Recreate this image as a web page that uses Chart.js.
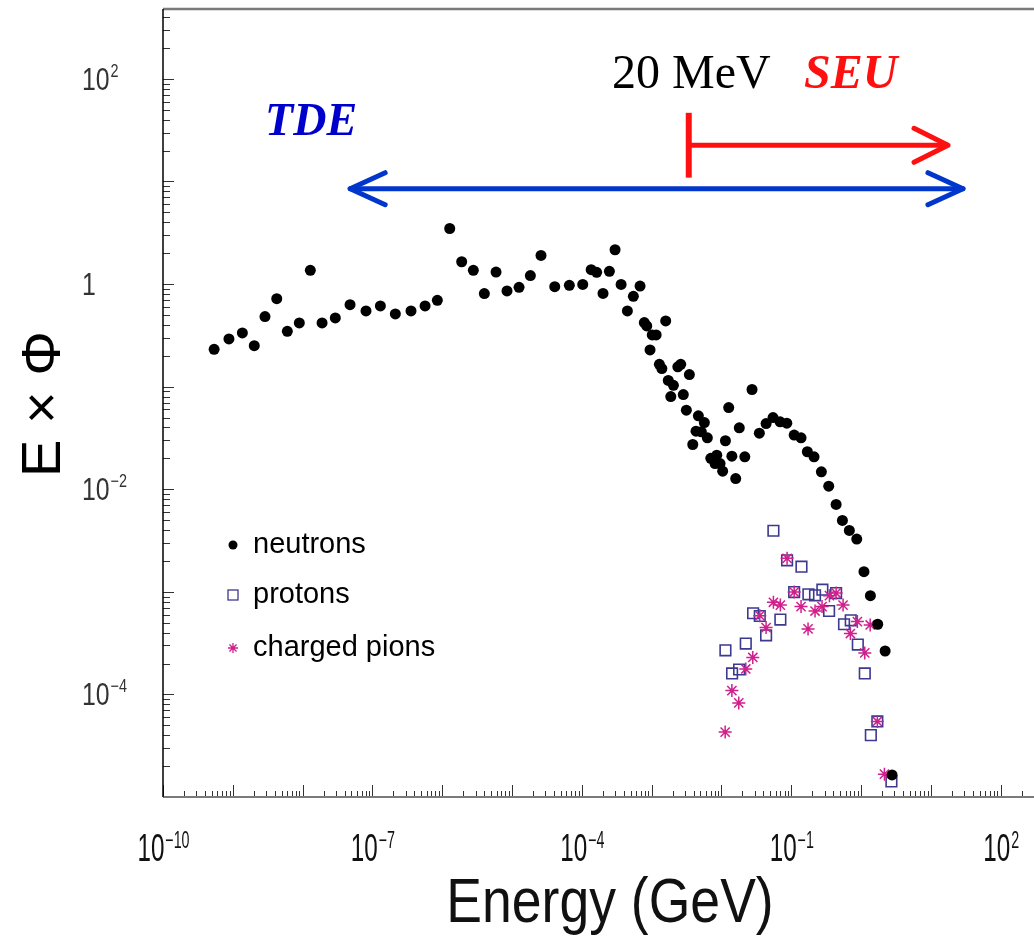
<!DOCTYPE html>
<html>
<head>
<meta charset="utf-8">
<script src="https://cdn.jsdelivr.net/npm/chart.js@4.4.1/dist/chart.umd.min.js"></script>
<style>
  html, body { margin: 0; padding: 0; background: #fff; }
  canvas { display: block; }
</style>
</head>
<body>
<canvas id="fluxChart" width="1034" height="949"></canvas>
<script>
// neutrons (E in GeV, E x Phi)
const neutronEnergy = [
    5.4e-10, 8.8e-10, 1.37e-9, 2.03e-9, 2.89e-9, 4.26e-9, 6.04e-9, 8.97e-9, 1.29e-8, 1.90e-8,
    2.94e-8, 4.78e-8, 8.09e-8, 1.30e-7, 2.13e-7, 3.57e-7, 5.68e-7, 8.51e-7, 1.28e-6, 1.90e-6,
    2.79e-6, 4.01e-6, 5.90e-6, 8.47e-6, 1.26e-5, 1.83e-5, 2.60e-5, 4.09e-5, 6.62e-5, 1.03e-4,
    1.36e-4, 1.63e-4, 2.01e-4, 2.48e-4, 2.99e-4, 3.65e-4, 4.49e-4, 5.47e-4, 6.82e-4, 7.85e-4,
    8.51e-4, 9.48e-4, 1.02e-3, 1.16e-3, 1.29e-3, 1.40e-3, 1.59e-3, 1.73e-3, 1.88e-3, 2.05e-3,
    2.37e-3, 2.61e-3, 2.84e-3, 3.14e-3, 3.47e-3, 3.88e-3, 4.32e-3, 4.67e-3, 5.15e-3, 5.69e-3,
    6.28e-3, 7.03e-3, 8.09e-3, 8.57e-3, 9.55e-3, 1.04e-2, 1.14e-2, 1.27e-2, 1.41e-2, 1.60e-2,
    1.80e-2, 2.16e-2, 2.74e-2, 3.49e-2, 4.36e-2, 5.48e-2, 6.92e-2, 8.63e-2, 0.110, 0.138,
    0.170, 0.212, 0.270, 0.344, 0.439, 0.540, 0.679, 0.867, 1.10, 1.36,
    1.73, 2.21, 2.78
];
const neutronFlux = [
    0.231, 0.292, 0.334, 0.251, 0.482, 0.721, 0.346, 0.418, 1.36, 0.418,
    0.468, 0.630, 0.547, 0.612, 0.512, 0.547, 0.612, 0.694, 3.48, 1.65,
    1.36, 0.807, 1.31, 0.857, 0.929, 1.21, 1.90, 0.944, 0.971, 0.993,
    1.38, 1.30, 0.811, 1.33, 2.16, 0.993, 0.547, 0.759, 0.957, 0.421,
    0.391, 0.228, 0.319, 0.319, 0.165, 0.150, 0.437, 0.115, 0.0801, 0.103,
    0.156, 0.165, 0.0838, 0.0589, 0.131, 0.0273, 0.0368, 0.0520, 0.0363, 0.0447,
    0.0317, 0.0200, 0.0178, 0.0215, 0.0178, 0.0150, 0.0297, 0.0625, 0.0210, 0.0127,
    0.0397, 0.0207, 0.0938, 0.0352, 0.0437, 0.0500, 0.0454, 0.0441, 0.0337, 0.0317,
    0.0232, 0.0207, 0.0148, 0.0107, 7.11e-3, 4.97e-3, 3.97e-3, 3.27e-3, 1.57e-3, 9.18e-4,
    4.83e-4, 2.65e-4, 1.64e-5
];

// protons
const protonEnergy = [
    1.14e-2, 1.42e-2, 1.79e-2, 2.23e-2, 2.84e-2, 3.54e-2, 4.36e-2, 5.55e-2, 6.98e-2, 8.71e-2,
    0.110, 0.140, 0.176, 0.219, 0.279, 0.348, 0.439, 0.570, 0.711, 0.898,
    1.13, 1.38, 1.71, 2.72
];
const protonFlux = [
    2.69e-4, 1.60e-4, 1.75e-4, 3.13e-4, 6.18e-4, 5.81e-4, 3.77e-4, 3.94e-3, 5.36e-4, 2.03e-3,
    9.95e-4, 1.76e-3, 9.46e-4, 9.25e-4, 1.05e-3, 6.50e-4, 9.73e-4, 4.83e-4, 5.27e-4, 3.06e-4,
    1.60e-4, 4.01e-5, 5.45e-5, 1.42e-5
];

// charged pions
const pionEnergy = [
    1.13e-2, 1.41e-2, 1.77e-2, 2.23e-2, 2.81e-2, 3.54e-2, 4.36e-2, 5.55e-2, 6.98e-2, 8.71e-2,
    0.110, 0.138, 0.174, 0.219, 0.276, 0.352, 0.439, 0.552, 0.703, 0.885,
    1.13, 1.35, 1.71, 2.16
];
const pionFlux = [
    4.29e-5, 1.09e-4, 8.26e-5, 1.77e-4, 2.29e-4, 5.86e-4, 4.48e-4, 7.91e-4, 7.43e-4, 2.12e-3,
    9.95e-4, 7.18e-4, 4.35e-4, 6.50e-4, 7.18e-4, 9.18e-4, 9.73e-4, 7.43e-4, 3.92e-4, 5.13e-4,
    2.54e-4, 4.75e-4, 5.45e-5, 1.67e-5
];

// tick labels
const xTickValues = [1e-10, 1e-7, 1e-4, 1e-1, 1e2];
const xTickExponents = ['\u221210', '\u22127', '\u22124', '\u22121', '2'];
const yTickValues = [1e2, 1, 1e-2, 1e-4];
const yTickBases = ['10', '1', '10', '10'];
const yTickExponents = ['2', '', '\u22122', '\u22124'];

const legendNames = ['neutrons', 'protons', 'charged pions'];

// 축 범위
const X_MIN = 1e-10, X_MAX = 300;
const Y_MIN = 1e-5, Y_MAX = 480;

const COLORS = {
    neutron: '#000000',
    proton: '#3d3890',
    pion: '#d11f8c',
    tde: '#0036cc',
    seu: '#ff1010'
};

function toPoints(xs, ys) {
    return xs.map((x, i) => ({ x: x, y: ys[i] }));
}

// 가로로 눌린 글자 그리기
function drawText(ctx, str, x, y, font, color, sx, align) {
    ctx.save();
    ctx.font = font;
    ctx.fillStyle = color;
    ctx.textAlign = align || 'left';
    ctx.textBaseline = 'alphabetic';
    ctx.translate(x, y);
    ctx.scale(sx, 1);
    ctx.fillText(str, 0, 0);
    ctx.restore();
}

function textWidth(ctx, str, font, sx) {
    ctx.save();
    ctx.font = font;
    const w = ctx.measureText(str).width * sx;
    ctx.restore();
    return w;
}

function minorValues(min, max) {
    const out = [];
    for (let e = Math.floor(Math.log10(min)); e <= Math.ceil(Math.log10(max)); e++) {
        for (let k = 1; k <= 9; k++) {
            const v = k * Math.pow(10, e);
            if (v >= min * 0.999 && v <= max * 1.001) out.push({ v: v, major: k === 1 });
        }
    }
    return out;
}

function arrowHead(ctx, tipX, tipY, dir, len, half) {
    ctx.beginPath();
    ctx.moveTo(tipX - dir * len, tipY - half);
    ctx.lineTo(tipX, tipY);
    ctx.lineTo(tipX - dir * len, tipY + half);
    ctx.stroke();
}

// 프레임과 눈금
const framePlugin = {
    id: 'framePlugin',
    beforeDatasetsDraw(chart) {
        const ctx = chart.ctx;
        const a = chart.chartArea;
        const xs = chart.scales.x, ys = chart.scales.y;
        ctx.save();

        // ticks on y axis (inward)
        ctx.strokeStyle = '#333';
        ctx.lineWidth = 1;
        minorValues(Y_MIN, Y_MAX).forEach(t => {
            const py = Math.round(ys.getPixelForValue(t.v)) + 0.5;
            ctx.beginPath();
            ctx.moveTo(a.left, py);
            ctx.lineTo(a.left + (t.major ? 11 : 7), py);
            ctx.stroke();
        });
        // ticks on x axis (inward)
        minorValues(X_MIN, X_MAX).forEach(t => {
            const px = Math.round(xs.getPixelForValue(t.v)) + 0.5;
            ctx.beginPath();
            ctx.moveTo(px, a.bottom);
            ctx.lineTo(px, a.bottom - (t.major ? 12 : 6));
            ctx.stroke();
        });

        // top border, bottom axis
        ctx.strokeStyle = '#7a7a7a';
        ctx.lineWidth = 2.5;
        ctx.beginPath();
        ctx.moveTo(a.left, a.top);
        ctx.lineTo(a.right, a.top);
        ctx.stroke();
        ctx.lineWidth = 2;
        ctx.beginPath();
        ctx.moveTo(a.left, a.bottom);
        ctx.lineTo(a.right, a.bottom);
        ctx.stroke();
        // left axis
        ctx.strokeStyle = '#000';
        ctx.lineWidth = 1.5;
        ctx.beginPath();
        ctx.moveTo(a.left, a.top);
        ctx.lineTo(a.left, a.bottom);
        ctx.stroke();
        ctx.restore();
    },
    afterDatasetsDraw(chart) {
        const ctx = chart.ctx;
        const a = chart.chartArea;
        const xs = chart.scales.x, ys = chart.scales.y;

        // x tick labels
        const xBase = '39px "Liberation Sans", Arial, sans-serif';
        const xExp = '23px "Liberation Sans", Arial, sans-serif';
        xTickValues.forEach((v, i) => {
            const cx = xs.getPixelForValue(v);
            const wb = textWidth(ctx, '10', xBase, 0.62);
            const we = textWidth(ctx, xTickExponents[i], xExp, 0.62);
            const x0 = cx - (wb + we) / 2;
            drawText(ctx, '10', x0, a.bottom + 64, xBase, '#111', 0.62);
            drawText(ctx, xTickExponents[i], x0 + wb + 1, a.bottom + 51, xExp, '#111', 0.62);
        });

        // y tick labels
        const yBase = '31px "Liberation Sans", Arial, sans-serif';
        const yExp = '18px "Liberation Sans", Arial, sans-serif';
        yTickValues.forEach((v, i) => {
            const cy = ys.getPixelForValue(v);
            const x0 = 82;
            drawText(ctx, yTickBases[i], x0, cy + 11, yBase, '#333', 0.8);
            if (yTickExponents[i]) {
                const wb = textWidth(ctx, yTickBases[i], yBase, 0.8);
                drawText(ctx, yTickExponents[i], x0 + wb + 1, cy - 2, yExp, '#333', 0.8);
            }
        });

        // axis titles
        drawText(ctx, 'Energy (GeV)', 610, 922, '63px "Liberation Sans", Arial, sans-serif', '#111', 0.85, 'center');
        ctx.save();
        ctx.translate(60, 404);
        ctx.rotate(-Math.PI / 2);
        ctx.font = '56px "Liberation Sans", Arial, sans-serif';
        ctx.fillStyle = '#000';
        ctx.textAlign = 'center';
        ctx.textBaseline = 'alphabetic';
        ctx.fillText('E \u00d7 \u03a6', 0, 0);
        ctx.restore();

        // TDE double arrow
        ctx.save();
        ctx.lineCap = 'round';
        ctx.lineJoin = 'round';
        ctx.strokeStyle = COLORS.tde;
        ctx.lineWidth = 5;
        const tY = ys.getPixelForValue(8.5);
        const tL = xs.getPixelForValue(4.8e-8);
        const tR = xs.getPixelForValue(28.8);
        ctx.beginPath();
        ctx.moveTo(tL, tY);
        ctx.lineTo(tR, tY);
        ctx.stroke();
        arrowHead(ctx, tL, tY, -1, 35, 16);
        arrowHead(ctx, tR, tY, 1, 35, 16);

        // SEU arrow from the 20 MeV bar
        ctx.strokeStyle = COLORS.seu;
        const sX = xs.getPixelForValue(3.4e-3);
        const sY = ys.getPixelForValue(22.5);
        const sR = xs.getPixelForValue(17.6);
        ctx.lineCap = 'butt';
        ctx.lineWidth = 6;
        ctx.beginPath();
        ctx.moveTo(sX, ys.getPixelForValue(46.7));
        ctx.lineTo(sX, ys.getPixelForValue(10.9));
        ctx.stroke();
        ctx.lineWidth = 5;
        ctx.beginPath();
        ctx.moveTo(sX, sY);
        ctx.lineTo(sR, sY);
        ctx.stroke();
        ctx.lineCap = 'round';
        arrowHead(ctx, sR, sY, 1, 34, 17);
        ctx.restore();

        drawText(ctx, 'TDE', xs.getPixelForValue(2.9e-9), ys.getPixelForValue(28.5),
            'italic bold 46px "Liberation Serif", "Times New Roman", serif', '#0000cc', 1);
        drawText(ctx, '20 MeV', xs.getPixelForValue(2.71e-4), ys.getPixelForValue(81.7),
            '48px "Liberation Serif", "Times New Roman", serif', '#000', 1);
        drawText(ctx, 'SEU', xs.getPixelForValue(0.152), ys.getPixelForValue(81.7),
            'italic bold 48px "Liberation Serif", "Times New Roman", serif', COLORS.seu, 1);

        // legend
        const rows = [545, 595, 648];
        const mx = 233;
        ctx.save();
        ctx.fillStyle = COLORS.neutron;
        ctx.beginPath();
        ctx.arc(mx, rows[0], 4.5, 0, Math.PI * 2);
        ctx.fill();
        ctx.strokeStyle = COLORS.proton;
        ctx.lineWidth = 1.3;
        ctx.strokeRect(mx - 5, rows[1] - 5, 10, 10);
        ctx.strokeStyle = COLORS.pion;
        ctx.beginPath();
        for (let k = 0; k < 4; k++) {
            const ang = k * Math.PI / 4;
            ctx.moveTo(mx - 5 * Math.cos(ang), rows[2] - 5 * Math.sin(ang));
            ctx.lineTo(mx + 5 * Math.cos(ang), rows[2] + 5 * Math.sin(ang));
        }
        ctx.stroke();
        ctx.font = '29px "Liberation Sans", Arial, sans-serif';
        ctx.fillStyle = '#000';
        ctx.textBaseline = 'middle';
        legendNames.forEach((name, i) => ctx.fillText(name, 253, rows[i]));
        ctx.restore();
    }
};

new Chart(document.getElementById('fluxChart').getContext('2d'), {
    type: 'scatter',
    data: {
        datasets: [{
            label: 'neutrons',
            data: toPoints(neutronEnergy, neutronFlux),
            pointStyle: 'circle',
            pointRadius: 5.5,
            backgroundColor: COLORS.neutron,
            borderWidth: 0
        }, {
            label: 'charged pions',
            data: toPoints(pionEnergy, pionFlux),
            pointStyle: 'star',
            pointRadius: 6.5,
            backgroundColor: COLORS.pion,
            borderColor: COLORS.pion,
            borderWidth: 1.5
        }, {
            label: 'protons',
            data: toPoints(protonEnergy, protonFlux),
            pointStyle: 'rect',
            pointRadius: 7.5,
            backgroundColor: 'rgba(0,0,0,0)',
            borderColor: COLORS.proton,
            borderWidth: 1.6
        }]
    },
    options: {
        responsive: false,
        animation: false,
        events: [],
        layout: {
            autoPadding: false,
            padding: { left: 163, top: 9, right: 0, bottom: 152 }
        },
        scales: {
            x: { type: 'logarithmic', min: X_MIN, max: X_MAX, display: false },
            y: { type: 'logarithmic', min: Y_MIN, max: Y_MAX, display: false }
        },
        plugins: {
            legend: { display: false },
            tooltip: { enabled: false }
        }
    },
    plugins: [framePlugin]
});
</script>
</body>
</html>
